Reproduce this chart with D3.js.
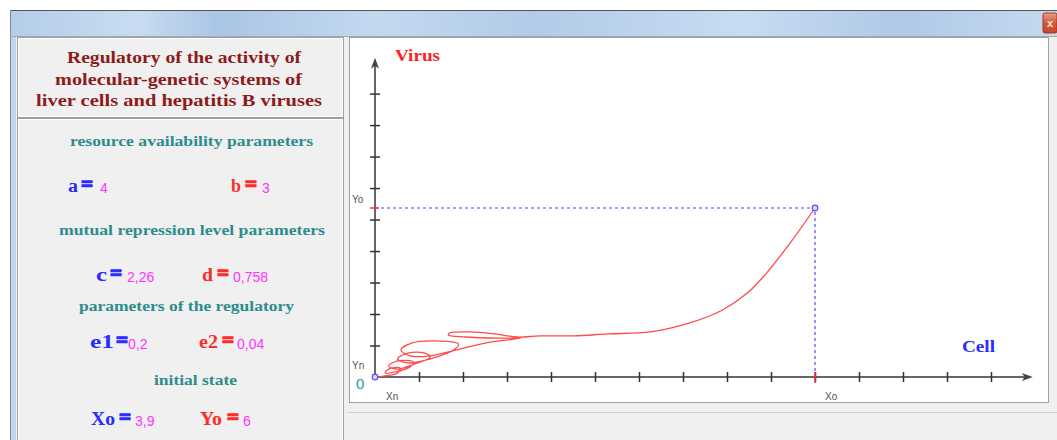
<!DOCTYPE html>
<html>
<head>
<meta charset="utf-8">
<script src="https://cdn.jsdelivr.net/npm/d3@7"></script>
<style>
  body { margin: 0; background: #fff; }
  svg { display: block; }
  .serif { font-family: "Liberation Serif", "Times New Roman", serif; font-weight: bold; }
  .sans { font-family: "Liberation Sans", Arial, sans-serif; }
</style>
</head>
<body>
<svg id="chart" width="1057" height="440"></svg>
<script>
// model parameters shown in the left panel
const paramA = "4", paramB = "3";
const paramC = "2,26", paramD = "0,758";
const paramE1 = "0,2", paramE2 = "0,04";
const initX = 3.9, initY = 6;          // Xo, Yo
const initXLabel = "3,9", initYLabel = "6";

const titleLines = ["Regulatory of the activity of", "molecular-genetic systems of", "liver cells and hepatitis B viruses"];
const headerLines = ["resource availability parameters", "mutual repression level parameters",
  "parameters of the regulatory", "initial state"];

// phase trajectory (Cell, Virus)
const trajX = [3.9, 3.68, 3.47, 3.30, 3.08, 2.79, 2.44, 2.07, 1.76, 1.46,
  1.26, 1.06, 0.84, 0.66, 0.65, 0.80, 1.11, 1.29, 1.02, 0.75,
  0.49, 0.31, 0.23, 0.33, 0.53, 0.74, 0.71, 0.49, 0.29, 0.20,
  0.29, 0.44, 0.49, 0.35, 0.20, 0.12, 0.20, 0.34, 0.31, 0.18,
  0.09, 0.12, 0.22, 0.20, 0.09, 0.01, 0];
const trajY = [6.0, 4.76, 3.69, 2.98, 2.38, 1.92, 1.60, 1.53, 1.46, 1.46,
  1.42, 1.53, 1.60, 1.56, 1.49, 1.42, 1.38, 1.38, 1.24, 0.99,
  0.75, 0.75, 0.96, 1.21, 1.28, 1.17, 0.99, 0.64, 0.50, 0.64,
  0.85, 0.85, 0.71, 0.46, 0.28, 0.39, 0.57, 0.53, 0.36, 0.18,
  0.14, 0.28, 0.32, 0.14, 0.04, 0, 0];

// axis ticks (data units)
const xTicks = d3.range(1, 15).map(k => k * 0.39);
const yTicks = d3.range(1, 10).map(k => k * 1.118);
const xAxisMax = 5.83, yAxisMax = 11.33;

const svg = d3.select("#chart");

// ---- window chrome ----
const defs = svg.append("defs");
const bar = defs.append("linearGradient").attr("id", "bar");
[["0%", "#b4cde9"], ["12%", "#c9dcf1"], ["20%", "#aac5e5"], ["35%", "#c4d9f0"],
 ["50%", "#b2cbe8"], ["70%", "#c8dcf2"], ["85%", "#b0c9e7"], ["100%", "#c6daf0"]]
  .forEach(s => bar.append("stop").attr("offset", s[0]).attr("stop-color", s[1]));
const closeG = defs.append("linearGradient").attr("id", "closeG").attr("x2", 0).attr("y2", 1);
closeG.append("stop").attr("offset", "0%").attr("stop-color", "#e8a08a");
closeG.append("stop").attr("offset", "50%").attr("stop-color", "#d5583a");
closeG.append("stop").attr("offset", "100%").attr("stop-color", "#c8452a");

svg.append("rect").attr("width", 1057).attr("height", 440).attr("fill", "#fff");
svg.append("rect").attr("x", 10).attr("y", 10).attr("width", 1047).attr("height", 26).attr("fill", "url(#bar)");
svg.append("line").attr("x1", 10).attr("x2", 1057).attr("y1", 10.5).attr("y2", 10.5).attr("stroke", "#555");
svg.append("rect").attr("x", 10).attr("y", 36).attr("width", 1047).attr("height", 404).attr("fill", "#f0f0f0");
svg.append("line").attr("x1", 10.5).attr("x2", 10.5).attr("y1", 10).attr("y2", 440).attr("stroke", "#7d8b9c");
svg.append("rect").attr("x", 11).attr("y", 36).attr("width", 5).attr("height", 404).attr("fill", "#c3d5ea");
svg.append("line").attr("x1", 10).attr("x2", 1057).attr("y1", 36.5).attr("y2", 36.5).attr("stroke", "#a0a8b4");

svg.append("rect").attr("x", 1043).attr("y", 13).attr("width", 14).attr("height", 20)
  .attr("rx", 2).attr("fill", "url(#closeG)").attr("stroke", "#9a3a24");
svg.append("text").attr("class", "sans").attr("x", 1050).attr("y", 27).attr("text-anchor", "middle")
  .attr("font-size", 11).attr("font-weight", "bold").attr("fill", "#f4e4e0").text("x");

// ---- left panel ----
function box(x, y, w, h) {
  svg.append("rect").attr("x", x).attr("y", y).attr("width", w).attr("height", h)
    .attr("fill", "#f0f0f0").attr("stroke", "#a0a0a0");
  svg.append("rect").attr("x", x + 1).attr("y", y + 1).attr("width", w - 2).attr("height", h - 2)
    .attr("fill", "none").attr("stroke", "#fff");
}
box(17.5, 37.5, 326, 80);
box(17.5, 118.5, 326, 340);

// title: [start x, width, baseline]
const titlePos = [[67, 234, 63], [55, 247, 85], [36, 286, 106]];
svg.selectAll(".title").data(titleLines).enter().append("text")
  .attr("class", "serif title")
  .attr("x", (d, i) => titlePos[i][0]).attr("y", (d, i) => titlePos[i][2])
  .attr("textLength", (d, i) => titlePos[i][1]).attr("lengthAdjust", "spacingAndGlyphs")
  .attr("font-size", 17).attr("fill", "#8e1b1b")
  .text(d => d);

const headerPos = [[70, 243, 146], [59, 266, 235], [79, 215, 311], [154, 83, 385]];
svg.selectAll(".hdr").data(headerLines).enter().append("text")
  .attr("class", "serif hdr")
  .attr("x", (d, i) => headerPos[i][0]).attr("y", (d, i) => headerPos[i][2])
  .attr("textLength", (d, i) => headerPos[i][1]).attr("lengthAdjust", "spacingAndGlyphs")
  .attr("font-size", 15).attr("fill", "#2d8c8c").text(d => d);

function param(name, color, val, x, nameW, eqx, vx, y) {
  svg.append("text").attr("class", "serif").attr("x", x).attr("y", y)
    .attr("font-size", 18).attr("fill", color)
    .attr("textLength", nameW).attr("lengthAdjust", "spacingAndGlyphs").text(name);
  // heavy equals sign
  svg.append("text").attr("class", "serif").attr("x", eqx).attr("y", y - 1)
    .attr("font-size", 20).attr("fill", color).attr("stroke", color).attr("stroke-width", 1.3)
    .attr("textLength", 12).attr("lengthAdjust", "spacingAndGlyphs").text("=");
  svg.append("text").attr("class", "sans").attr("x", vx).attr("y", y + 1)
    .attr("font-size", 14).attr("fill", "#ff33ff").text(val);
}
param("a", "#2b2bff", paramA, 68, 10, 81, 100, 192);
param("b", "#ff2b2b", paramB, 231, 10, 245, 262, 192);
param("c", "#2b2bff", paramC, 96, 11, 110, 127, 281);
param("d", "#ff2b2b", paramD, 202, 11, 217, 233, 281);
param("e1", "#2b2bff", paramE1, 90, 24, 116, 128, 348);
param("e2", "#ff2b2b", paramE2, 199, 19, 222, 237, 348);
param("Xo", "#2b2bff", initXLabel, 91, 24, 119, 135, 425);
param("Yo", "#ff2b2b", initYLabel, 200, 22, 227, 243, 425);

// ---- chart panel ----
svg.append("rect").attr("x", 349.5).attr("y", 37.5).attr("width", 699).attr("height", 365)
  .attr("fill", "#fff").attr("stroke", "#a0a0a0");
svg.append("line").attr("x1", 347).attr("x2", 1057).attr("y1", 412.5).attr("y2", 412.5).attr("stroke", "#d4d4d4");

const x = d3.scaleLinear().domain([0, initX]).range([375, 815]);
const y = d3.scaleLinear().domain([0, initY]).range([377, 208]);

const axisColor = "#666";
// x axis
svg.append("line").attr("x1", x(0)).attr("x2", x(xAxisMax) - 4).attr("y1", y(0)).attr("y2", y(0))
  .attr("stroke", axisColor).attr("stroke-width", 2);
svg.append("path")
  .attr("d", `M${x(xAxisMax)},${y(0)} l-11,-4 l3,4 l-3,4 z`).attr("fill", "#444");
const gx = svg.append("g").attr("transform", `translate(0,${y(0)})`)
  .call(d3.axisBottom(x).tickValues(xTicks).tickSize(5).tickFormat(""));
gx.select(".domain").remove();
gx.selectAll("line").attr("y1", -5).attr("stroke", "#333").attr("stroke-width", 1.5);

// y axis
svg.append("line").attr("x1", x(0)).attr("x2", x(0)).attr("y1", y(0)).attr("y2", y(yAxisMax) + 4)
  .attr("stroke", axisColor).attr("stroke-width", 2);
svg.append("path")
  .attr("d", `M${x(0)},${y(yAxisMax)} l-4,11 l4,-3 l4,3 z`).attr("fill", "#444");
const gy = svg.append("g").attr("transform", `translate(${x(0)},0)`)
  .call(d3.axisLeft(y).tickValues(yTicks).tickSize(5).tickFormat(""));
gy.select(".domain").remove();
gy.selectAll("line").attr("x1", 5).attr("stroke", "#333").attr("stroke-width", 1.5);

// initial-state guides
svg.append("path")
  .attr("d", `M${x(0)},${y(initY)} H${x(initX)} V${y(0)}`)
  .attr("fill", "none").attr("stroke", "#4a4aff").attr("stroke-width", 1.2)
  .attr("stroke-dasharray", "3,3");
svg.append("line").attr("x1", x(0) - 5).attr("x2", x(0) + 4).attr("y1", y(initY)).attr("y2", y(initY))
  .attr("stroke", "#ff3030").attr("stroke-width", 1.5);
svg.append("line").attr("x1", x(initX)).attr("x2", x(initX)).attr("y1", y(0) - 5).attr("y2", y(0) + 6)
  .attr("stroke", "#ff3030").attr("stroke-width", 1.5);

// trajectory
const pts = trajX.map((v, i) => [v, trajY[i]]);
svg.append("path").datum(pts)
  .attr("d", d3.line().x(d => x(d[0])).y(d => y(d[1])).curve(d3.curveCatmullRom.alpha(0.5)))
  .attr("fill", "none").attr("stroke", "#ff4a4a").attr("stroke-width", 1.3);

svg.selectAll(".pt").data([[initX, initY], [0, 0]]).enter().append("circle")
  .attr("cx", d => x(d[0])).attr("cy", d => y(d[1])).attr("r", 2.8)
  .attr("fill", "#d8d8ff").attr("stroke", "#5050ff").attr("stroke-width", 1.2);

// labels
const small = [["Yo", 352, 203], ["Yn", 352, 369], ["Xn", 386, 400], ["Xo", 825, 400]];
svg.selectAll(".lbl").data(small).enter().append("text")
  .attr("class", "sans").attr("x", d => d[1]).attr("y", d => d[2])
  .attr("font-size", 10).attr("fill", "#555").text(d => d[0]);
svg.append("text").attr("class", "sans").attr("x", 356).attr("y", 389)
  .attr("font-size", 15).attr("fill", "#2f9a9a").text("0");
svg.append("text").attr("class", "serif").attr("x", 395).attr("y", 61)
  .attr("font-size", 16).attr("fill", "#ff2020")
  .attr("textLength", 45).attr("lengthAdjust", "spacingAndGlyphs").text("Virus");
svg.append("text").attr("class", "serif").attr("x", 962).attr("y", 352)
  .attr("font-size", 16).attr("fill", "#2b2bff")
  .attr("textLength", 33).attr("lengthAdjust", "spacingAndGlyphs").text("Cell");
</script>
</body>
</html>
